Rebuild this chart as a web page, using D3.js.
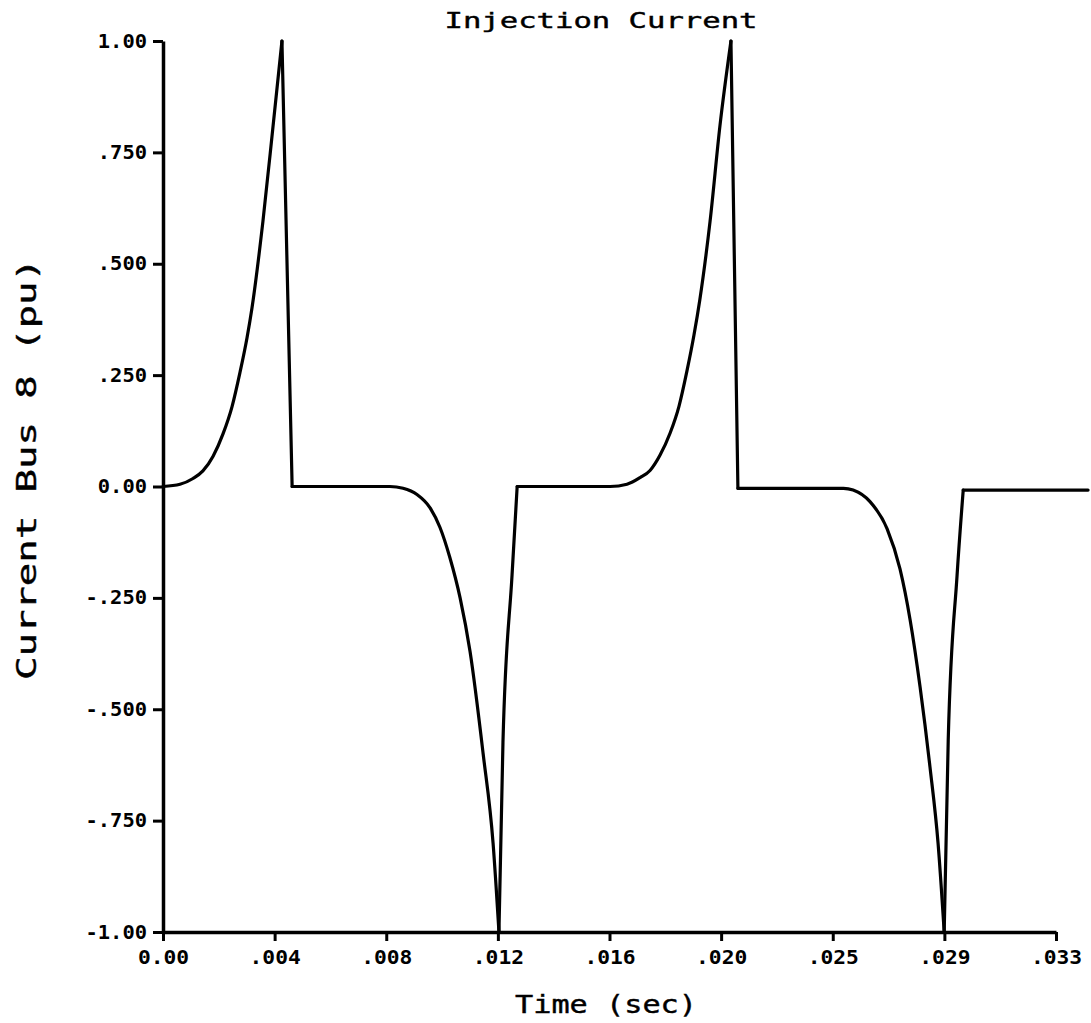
<!DOCTYPE html>
<html>
<head>
<meta charset="utf-8">
<script src="https://cdn.jsdelivr.net/npm/d3@7"></script>
<style>
  html, body { margin: 0; padding: 0; background: #fff; }
  svg { display: block; }
</style>
</head>
<body>
<svg id="chart" width="1091" height="1023"></svg>
<script>
// ---- data ----
const titleText = "Injection Current";
const xLabelText = "Time (sec)";
const yLabelText = "Current Bus 8 (pu)";

const timeSec = [
  0, 0.000635, 0.00112, 0.00149, 0.00187, 0.00224, 0.00258, 0.00287, 0.00314, 0.00332,
  0.00373, 0.00411, 0.00444, 0.00482,
  0.00847, 0.00896, 0.00948, 0.00997, 0.01034, 0.01071, 0.01109, 0.01146, 0.01195, 0.01232,
  0.01254, 0.01269, 0.01303, 0.01322,
  0.01669, 0.01732, 0.01781, 0.01818, 0.01855, 0.01893, 0.01926, 0.01956, 0.01982, 0.02004,
  0.02042, 0.02079, 0.02120, 0.02146,
  0.02540, 0.02576, 0.02639, 0.02703, 0.02751, 0.02789, 0.02826, 0.02863, 0.02893, 0.02916,
  0.02931, 0.02964, 0.02987, 0.03453
];
const currentPu = [
  0, 0.005, 0.018, 0.035, 0.068, 0.118, 0.18, 0.255, 0.335, 0.40,
  0.595, 0.81, 1.0, 0.0,
  0.0, -0.004, -0.018, -0.048, -0.092, -0.16, -0.25, -0.37, -0.60, -0.80,
  -1.0, -0.574, -0.198, 0.0,
  0.0, 0.005, 0.02, 0.036, 0.07, 0.12, 0.18, 0.26, 0.34, 0.42,
  0.595, 0.81, 1.0, -0.004,
  -0.004, -0.008, -0.034, -0.095, -0.185, -0.30, -0.45, -0.63, -0.80, -1.0,
  -0.57, -0.2, -0.008, -0.008
];

const xTickValues = [0, 0.0041667, 0.0083333, 0.0125, 0.0166667, 0.0208333, 0.025, 0.0291667, 0.0333333];
const xTickLabels = ["0.00", ".004", ".008", ".012", ".016", ".020", ".025", ".029", ".033"];
const yTickValues = [1, 0.75, 0.5, 0.25, 0, -0.25, -0.5, -0.75, -1];
const yTickLabels = ["1.00", ".750", ".500", ".250", "0.00", "-.250", "-.500", "-.750", "-1.00"];

// ---- layout ----
const svg = d3.select("#chart");
const x = d3.scaleLinear().domain([0, 0.0333333]).range([163, 1056]);
const y = d3.scaleLinear().domain([-1, 1]).range([932, 41]);

const tickFont = "'DejaVu Sans Mono', 'Liberation Mono', monospace";

// x axis
const xAxis = d3.axisBottom(x)
  .tickValues(xTickValues)
  .tickFormat((d, i) => xTickLabels[i])
  .tickSize(9)
  .tickSizeOuter(0)
  .tickPadding(10);
const gx = svg.append("g").attr("transform", `translate(0,${y(-1)})`).call(xAxis);
gx.select(".domain").attr("stroke", "#000").attr("stroke-width", 3.5);
gx.selectAll(".tick line").attr("stroke", "#000").attr("stroke-width", 3);
gx.selectAll(".tick text")
  .attr("fill", "#000")
  .style("font-family", tickFont)
  .style("font-weight", "bold")
  .style("font-size", "19px")
  .attr("textLength", (d, i) => xTickLabels[i].length * 12.8)
  .attr("lengthAdjust", "spacingAndGlyphs");

// y axis
const yAxis = d3.axisLeft(y)
  .tickValues(yTickValues)
  .tickFormat((d, i) => yTickLabels[i])
  .tickSize(10)
  .tickSizeOuter(0)
  .tickPadding(6);
const gy = svg.append("g").attr("transform", `translate(${x(0)},0)`).call(yAxis);
gy.select(".domain").attr("stroke", "#000").attr("stroke-width", 3.5);
gy.selectAll(".tick line").attr("stroke", "#000").attr("stroke-width", 3);
gy.selectAll(".tick text")
  .attr("fill", "#000")
  .style("font-family", tickFont)
  .style("font-weight", "bold")
  .style("font-size", "19px")
  .attr("textLength", (d, i) => yTickLabels[i].length * 12.3)
  .attr("lengthAdjust", "spacingAndGlyphs");

// curve: split into smooth pieces at the sharp corners (peaks, troughs, switch-offs)
const pts = timeSec.map((t, i) => [t, currentPu[i]]);
const breaks = [0];
for (let i = 1; i < pts.length - 1; i++) {
  const d1 = pts[i][1] - pts[i - 1][1];
  const d2 = pts[i + 1][1] - pts[i][1];
  if (d1 * d2 < 0 || (Math.abs(d1) > 0.1 && Math.abs(d2) < 0.01)) breaks.push(i);
}
breaks.push(pts.length - 1);
const pieces = [];
for (let k = 0; k < breaks.length - 1; k++) pieces.push(pts.slice(breaks[k], breaks[k + 1] + 1));

const line = d3.line().x(d => x(d[0])).y(d => y(d[1])).curve(d3.curveMonotoneX);
svg.append("g").selectAll("path")
  .data(pieces)
  .join("path")
  .attr("d", line)
  .attr("fill", "none")
  .attr("stroke", "#000")
  .attr("stroke-width", 3.2)
  .attr("stroke-linejoin", "round")
  .attr("stroke-linecap", "round");

// title
svg.append("text")
  .attr("x", 601).attr("y", 28)
  .attr("text-anchor", "middle")
  .style("font-family", tickFont)
  .style("font-size", "21px")
  .style("stroke", "#000")
  .style("stroke-width", "0.4px")
  .attr("textLength", 313)
  .attr("lengthAdjust", "spacingAndGlyphs")
  .text(titleText);

// x label
svg.append("text")
  .attr("x", 606).attr("y", 1013)
  .attr("text-anchor", "middle")
  .style("font-family", tickFont)
  .style("font-size", "24px")
  .style("stroke", "#000")
  .style("stroke-width", "0.4px")
  .attr("textLength", 182)
  .attr("lengthAdjust", "spacingAndGlyphs")
  .text(xLabelText);

// y label
svg.append("text")
  .attr("transform", "translate(36,469) rotate(-90)")
  .attr("text-anchor", "middle")
  .style("font-family", tickFont)
  .style("font-size", "26px")
  .style("stroke", "#000")
  .style("stroke-width", "0.4px")
  .attr("textLength", 422)
  .attr("lengthAdjust", "spacingAndGlyphs")
  .text(yLabelText);
</script>
</body>
</html>
